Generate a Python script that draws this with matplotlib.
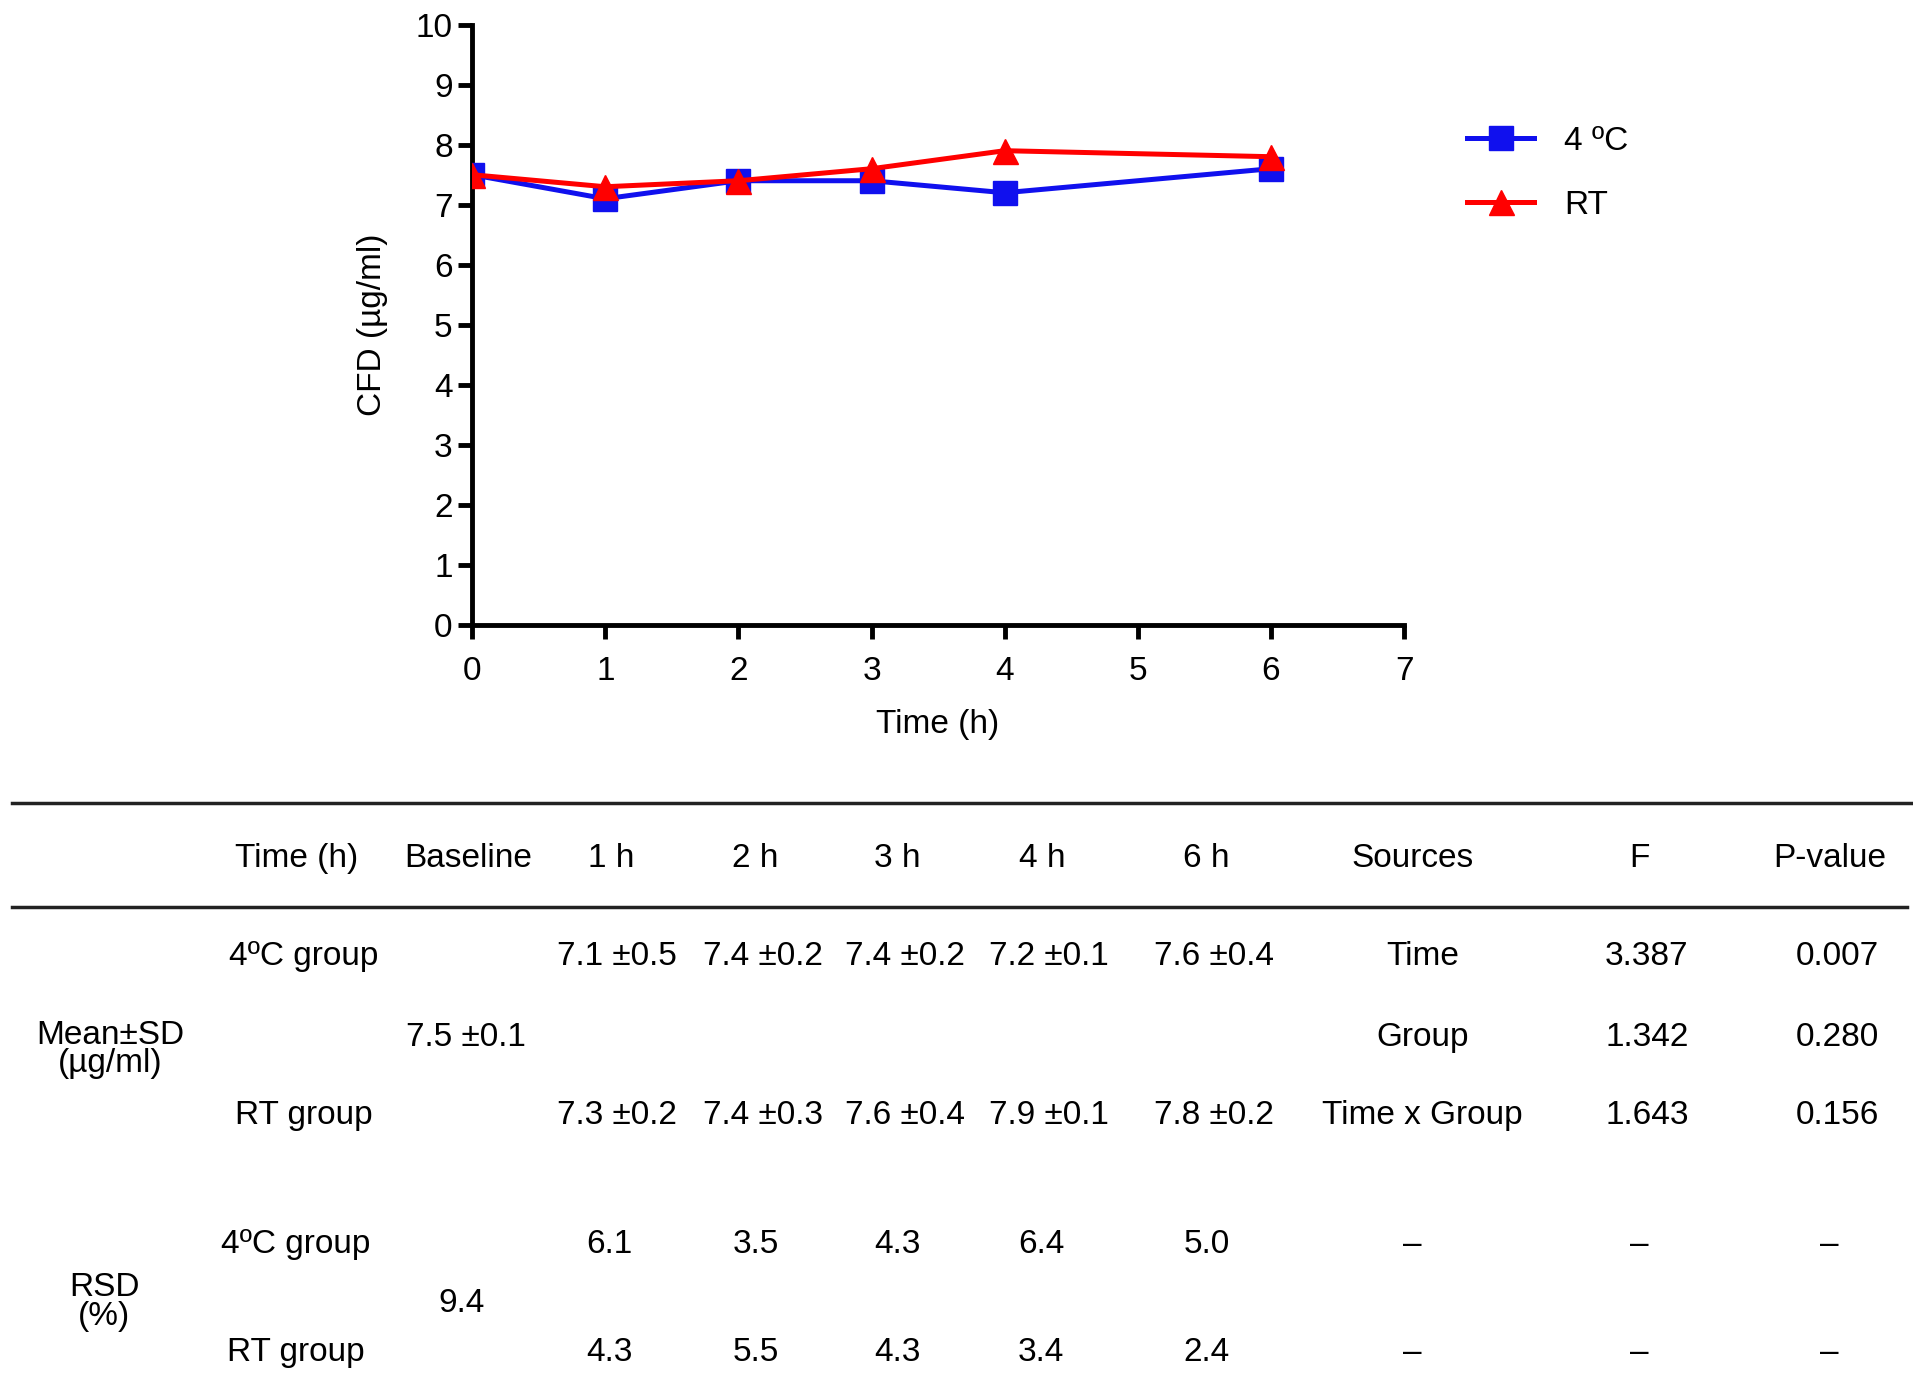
import matplotlib.pyplot as plt
from matplotlib.lines import Line2D

plt.rcParams['font.family'] = ['Liberation Sans', 'DejaVu Sans']

# chart data
hours = [0, 1, 2, 3, 4, 6]
cold = [7.5, 7.1, 7.4, 7.4, 7.2, 7.6]
room = [7.5, 7.3, 7.4, 7.6, 7.9, 7.8]

# table data
header = ["Time (h)", "Baseline", "1 h", "2 h", "3 h", "4 h", "6 h", "Sources", "F", "P-value"]
mean_cold = ["7.1 ±0.5", "7.4 ±0.2", "7.4 ±0.2", "7.2 ±0.1", "7.6 ±0.4"]
mean_room = ["7.3 ±0.2", "7.4 ±0.3", "7.6 ±0.4", "7.9 ±0.1", "7.8 ±0.2"]
baseline_mean = "7.5 ±0.1"
sources = ["Time", "Group", "Time x Group"]
f_vals = ["3.387", "1.342", "1.643"]
p_vals = ["0.007", "0.280", "0.156"]
rsd_cold = ["6.1", "3.5", "4.3", "6.4", "5.0"]
rsd_room = ["4.3", "5.5", "4.3", "3.4", "2.4"]
baseline_rsd = "9.4"

W, H = 1560, 1123  # layout grid used for placement


def fx(x):
    return x / W


def fy(y):
    return 1 - y / H


fig = plt.figure(figsize=(19.13, 13.77), dpi=100)
ax = fig.add_axes([fx(385), fy(510), fx(1145) - fx(385), fy(20) - fy(510)])

ax.plot(hours, cold, color='#1010ee', lw=3.6, marker='s', ms=17, label='4 ºC', zorder=3)
ax.plot(hours, room, color='#ff0000', lw=3.6, marker='^', ms=18, label='RT', zorder=4)

ax.set_xlim(0, 7)
ax.set_ylim(0, 10)
ax.set_xticks(range(8))
ax.set_yticks(range(11))
for s in ['top', 'right']:
    ax.spines[s].set_visible(False)
for s in ['left', 'bottom']:
    ax.spines[s].set_linewidth(3.5)
ax.tick_params(width=3.5, length=10, labelsize=24, direction='out')
ax.tick_params(axis='y', pad=4)
ax.tick_params(axis='x', pad=12)
ax.set_xlabel("Time (h)", fontsize=24, labelpad=16)
ax.set_ylabel("CFD (µg/ml)", fontsize=24, labelpad=20)

leg = fig.legend(loc='upper left', bbox_to_anchor=(fx(1172), fy(78)), frameon=False,
                 fontsize=24, handlelength=2.0, labelspacing=1.0, handletextpad=0.9)

# table
fs = 24
tk = dict(fontsize=fs, ha='center', va='center')
fig.add_artist(Line2D([fx(10), fx(1558)], [fy(655), fy(655)], color='#222222', lw=2.5))
fig.add_artist(Line2D([fx(10), fx(1555)], [fy(740), fy(740)], color='#222222', lw=2.5))

head_x = [242, 382, 498, 616, 732, 850, 984, 1152, 1337, 1492]
for x, t in zip(head_x, header):
    fig.text(fx(x), fy(700), t, **tk)

col_x = [503, 622, 738, 855, 990]
fig.text(fx(248), fy(780), "4ºC group", **tk)
fig.text(fx(248), fy(910), "RT group", **tk)
for x, a, b in zip(col_x, mean_cold, mean_room):
    fig.text(fx(x), fy(780), a, **tk)
    fig.text(fx(x), fy(910), b, **tk)
fig.text(fx(90), fy(856), "Mean±SD\n(µg/ml)", linespacing=0.9, **tk)
fig.text(fx(380), fy(846), baseline_mean, **tk)
for y, s, f, p in zip([780, 846, 910], sources, f_vals, p_vals):
    fig.text(fx(1160), fy(y), s, **tk)
    fig.text(fx(1343), fy(y), f, **tk)
    fig.text(fx(1498), fy(y), p, **tk)

rsd_x = [497, 616, 732, 849, 984]
fig.text(fx(241), fy(1015), "4ºC group", **tk)
fig.text(fx(241), fy(1103), "RT group", **tk)
for x, a, b in zip(rsd_x, rsd_cold, rsd_room):
    fig.text(fx(x), fy(1015), a, **tk)
    fig.text(fx(x), fy(1103), b, **tk)
fig.text(fx(85), fy(1062), "RSD\n(%)", linespacing=0.9, **tk)
fig.text(fx(376), fy(1063), baseline_rsd, **tk)
for y in [1015, 1103]:
    for x in [1152, 1337, 1492]:
        fig.text(fx(x), fy(y), "–", **tk)

fig.savefig("out.png", dpi=100)
